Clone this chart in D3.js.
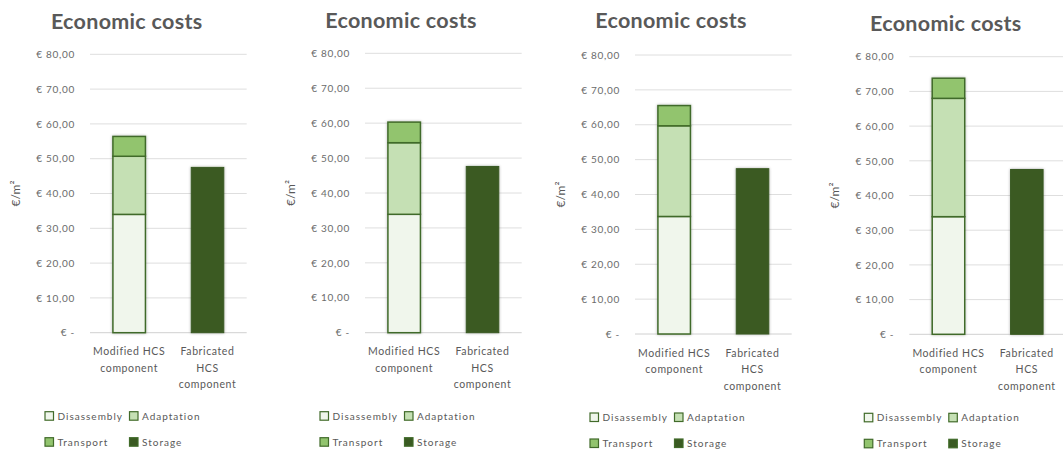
<!DOCTYPE html>
<html><head><meta charset="utf-8">
<script src="https://cdn.jsdelivr.net/npm/d3@7"></script>
<style>
html,body{margin:0;padding:0;background:#fff;}
svg{display:block;font-family:Lato,"Open Sans",sans-serif;}
</style></head>
<body>
<svg id="c" width="1063" height="450"></svg>
<script>
// ---- data ----
const categories = [["Modified HCS","component"],["Fabricated","HCS","component"]];
const seriesNames = ["Disassembly","Adaptation","Transport","Storage"];
const disassembly = [34.0, 33.9, 33.7, 33.9];
const adaptation  = [16.7, 20.5, 26.0, 34.1];
const transport   = [5.7, 5.9, 5.8, 5.8];
const storage     = [47.5, 47.6, 47.4, 47.5];
const yTicks = [0,10,20,30,40,50,60,70,80];
const yTickLabels = ["€ -","€ 10,00","€ 20,00","€ 30,00","€ 40,00","€ 50,00","€ 60,00","€ 70,00","€ 80,00"];
const title = "Economic costs";
const yLabel = "€/m²";

// ---- layout ----
const panels = [
  {left:90,   top:54.3, bottom:332.7, titleX:126.7, titleY:28.5},
  {left:365,  top:53.3, bottom:332.7, titleX:401,   titleY:27.5},
  {left:635,  top:55,   bottom:334,   titleX:671,   titleY:28},
  {left:909.3,top:56.7, bottom:334.3, titleX:945.8, titleY:30.5}
];
const plotW = 156.7;
const colors = {Disassembly:"#f0f6ec", Adaptation:"#c5e0b4", Transport:"#92c46e", Storage:"#3a5a22"};
const stroke = "#416b2a";

const svg = d3.select("#c");
const defs = svg.append("defs");
const f = defs.append("filter").attr("id","sh").attr("x","-30%").attr("y","-10%").attr("width","160%").attr("height","120%");
f.append("feGaussianBlur").attr("in","SourceAlpha").attr("stdDeviation",1.6).attr("result","b");
f.append("feOffset").attr("in","b").attr("dx",0).attr("dy",0).attr("result","o");
f.append("feComponentTransfer").attr("in","o").attr("result","o2").append("feFuncA").attr("type","linear").attr("slope",0.3);
const m = f.append("feMerge"); m.append("feMergeNode").attr("in","o2"); m.append("feMergeNode").attr("in","SourceGraphic");

panels.forEach((p,i)=>{
  const g = svg.append("g");
  const y = d3.scaleLinear().domain([0,80]).range([p.bottom,p.top]);
  const x = d3.scaleBand().domain([0,1]).range([p.left,p.left+plotW]).paddingInner(0.585).paddingOuter(0.2925);

  // gridlines
  g.append("g").selectAll("line").data(yTicks).join("line")
    .attr("x1",p.left).attr("x2",p.left+plotW)
    .attr("y1",d=>y(d)).attr("y2",d=>y(d))
    .attr("stroke",d=>d===0?"#d0d0d0":"#dedede").attr("stroke-width",1);

  // y axis labels
  const ax = d3.axisLeft(y).tickValues(yTicks).tickSize(0).tickPadding(0)
    .tickFormat((d,k)=>yTickLabels[k]);
  const axg = g.append("g").attr("transform",`translate(${p.left-15},0)`).call(ax);
  axg.select(".domain").remove();
  axg.selectAll("text").attr("fill","#6b6b6b").style("font-size","10px").style("letter-spacing","0.7px")
    .style("font-family","Lato,'Open Sans',sans-serif");

  // title
  g.append("text").attr("x",p.titleX).attr("y",p.titleY).attr("text-anchor","middle")
    .attr("fill","#595959").style("font-size","21.5px").style("font-weight","bold").style("letter-spacing","0.3px").text(title);

  // y label
  g.append("text").attr("transform",`translate(${p.left-70},${(p.top+p.bottom)/2}) rotate(-90)`)
    .attr("text-anchor","middle").attr("fill","#595959").style("font-size","12px").text(yLabel);

  // stacked bar (Modified)
  const stackVals = [
    {name:"Disassembly", v:disassembly[i]},
    {name:"Adaptation", v:adaptation[i]},
    {name:"Transport", v:transport[i]}
  ];
  let acc = 0;
  const segs = stackVals.map(s=>{const o={name:s.name,y0:acc,y1:acc+s.v}; acc+=s.v; return o;});
  const bg = g.append("g").attr("filter","url(#sh)");
  bg.selectAll("rect.s").data(segs).join("rect").attr("class","s")
    .attr("x",x(0)).attr("width",x.bandwidth())
    .attr("y",d=>y(d.y1)).attr("height",d=>y(d.y0)-y(d.y1))
    .attr("fill",d=>colors[d.name]).attr("stroke",stroke).attr("stroke-width",1.5);
  // fabricated
  bg.append("rect").attr("x",x(1)).attr("width",x.bandwidth())
    .attr("y",y(storage[i])).attr("height",y(0)-y(storage[i]))
    .attr("fill",colors.Storage).attr("stroke",colors.Storage).attr("stroke-width",1);

  // x labels
  categories.forEach((lines,k)=>{
    const t = g.append("text").attr("text-anchor","middle").attr("fill","#595959")
      .style("font-size","10.5px").style("letter-spacing","0.6px");
    lines.forEach((ln,j)=>{
      t.append("tspan").attr("x",x(k)+x.bandwidth()/2).attr("y",p.bottom+22.5+j*16.5).text(ln);
    });
  });

  // legend
  const leg = [
    {name:"Disassembly", dx:-45, row:0},
    {name:"Adaptation", dx:39.5, row:0},
    {name:"Transport", dx:-45, row:1},
    {name:"Storage", dx:39.5, row:1}
  ];
  leg.forEach(l=>{
    const cy = p.bottom + 83.5 + l.row*26;
    g.append("rect").attr("x",p.left+l.dx).attr("y",cy-4.5).attr("width",8.5).attr("height",8.5)
      .attr("fill",colors[l.name]).attr("stroke",stroke).attr("stroke-width",1.2);
    g.append("text").attr("x",p.left+l.dx+12.5).attr("y",cy+3.5).attr("fill","#595959")
      .style("font-size","10px").style("letter-spacing","1px").text(l.name);
  });
});
</script>
</body></html>
